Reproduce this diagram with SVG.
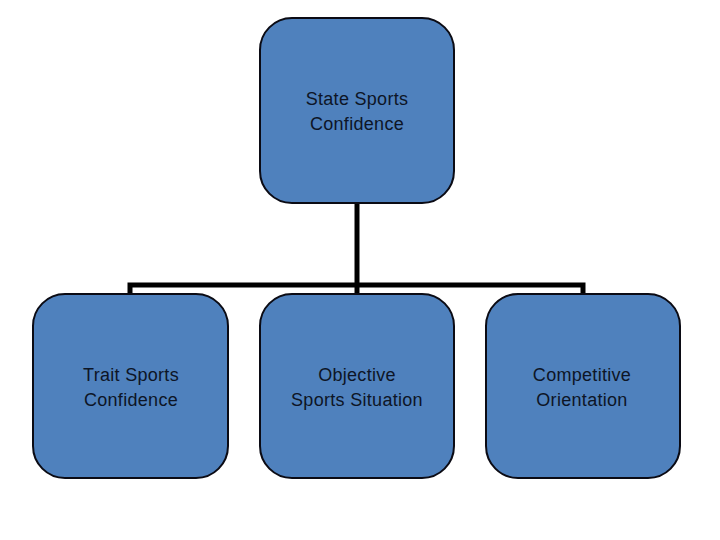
<svg xmlns="http://www.w3.org/2000/svg" width="720" height="540" viewBox="0 0 720 540">
<style>
.box{fill:#4f81bd;stroke:#0b0b14;stroke-width:2}
.lbl{font-family:"Liberation Sans",Arial,sans-serif;font-size:18px;letter-spacing:0.3px;fill:#0d1526;text-anchor:middle}
.conn{fill:none;stroke:#000;stroke-width:5}
</style>
<rect width="720" height="540" fill="#fff"/>
<g id="connectors">
<path class="conn" d="M357 203 V285"/>
<path class="conn" d="M130 294 V285 H583 V294"/>
<path class="conn" d="M357 285 V294"/>
</g>
<g id="state">
<rect class="box" x="260" y="18" width="194" height="185" rx="32"/>
<text class="lbl" x="357" y="105">State Sports</text>
<text class="lbl" x="357" y="130">Confidence</text>
</g>
<g id="trait">
<rect class="box" x="33" y="294" width="195" height="184" rx="32"/>
<text class="lbl" x="131" y="381">Trait Sports</text>
<text class="lbl" x="131" y="406">Confidence</text>
</g>
<g id="objective">
<rect class="box" x="260" y="294" width="194" height="184" rx="32"/>
<text class="lbl" x="357" y="381">Objective</text>
<text class="lbl" x="357" y="406">Sports Situation</text>
</g>
<g id="competitive">
<rect class="box" x="486" y="294" width="194" height="184" rx="32"/>
<text class="lbl" x="582" y="381">Competitive</text>
<text class="lbl" x="582" y="406">Orientation</text>
</g>
</svg>
